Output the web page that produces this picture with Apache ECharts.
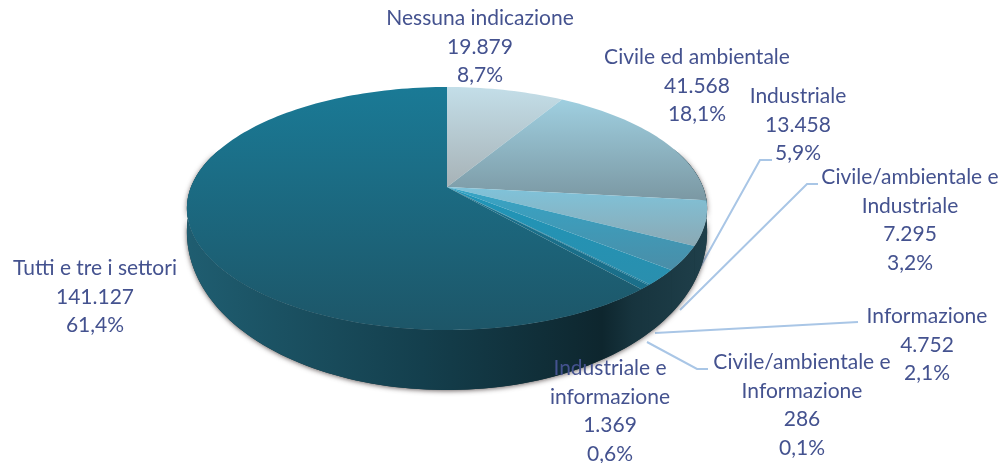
<!DOCTYPE html>
<html>
<head>
<meta charset="utf-8">
<style>
  html, body { margin: 0; padding: 0; background: #fff; }
  #chart { width: 1008px; height: 463px; filter: blur(0.5px); }
</style>
<script src="https://cdn.jsdelivr.net/npm/echarts@6/dist/echarts.min.js"></script>
</head>
<body>
<div id="chart"></div>
<script>
// settori in senso orario a partire da ore 12
const categories = [
  'Nessuna indicazione', 'Civile ed ambientale', 'Industriale',
  'Civile/ambientale e\nIndustriale', 'Informazione',
  'Civile/ambientale e\nInformazione', 'Industriale e\ninformazione',
  'Tutti e tre i settori'
]
const values = [19879, 41568, 13458, 7295, 4752, 286, 1369, 141127]
const valueLabels = ['19.879', '41.568', '13.458', '7.295', '4.752', '286', '1.369', '141.127']
const percentLabels = ['8,7%', '18,1%', '5,9%', '3,2%', '2,1%', '0,1%', '0,6%', '61,4%']

const topColors = [
  ['#c3dee8', '#a7b2b6'], ['#9fcfe0', '#7b98a3'], ['#7fc3da', '#8ba9b4'], ['#36a5c6', '#4a8ea8'],
  ['#1f95b8', '#2a8fae'], ['#1b7a98', '#1b7a98'], ['#1a6f8a', '#1a6f8a'], ['#1a7a96', '#1d5668']
]
const labelPos = [
  [480, 47], [697, 86], [798, 125], [910, 220], [927, 345], [802, 405], [610, 411], [95, 297]
]
const leaderLines = [
  [[772, 160], [760, 160], [697, 273]],
  [[818, 184], [807, 184], [680, 310]],
  [[858, 322], [655, 333]],
  [[708, 369], [697, 369], [647, 342]]
]

// parametri della prospettiva
const cx = 447, cy = 187, A = 256, B = 117.7, k = 0.177
const total = values.reduce((a, b) => a + b, 0)
const starts = values.map((_, i) => values.slice(0, i).reduce((a, b) => a + b, 0) / total)

function rim(share, drop) {
  const t = share * 2 * Math.PI
  const u = Math.sin(t), v = Math.cos(t)
  const d = 1 + k * v
  const y = cy - B * v / d
  return [cx + A * u / d, drop ? y + Math.max(0, 15 - 45 * v) : y]
}

function arc(from, to, drop) {
  const pts = []
  const n = Math.max(2, Math.ceil((to - from) * 240))
  for (let i = 0; i <= n; i++) pts.push(rim(from + (to - from) * i / n, drop))
  return pts
}

// alone grigio sotto il bordo del disco
function renderShadow() {
  return {
    type: 'polygon',
    shape: { points: arc(0.2, 0.8, false).concat(arc(0.2, 0.8, true).reverse()) },
    style: {
      fill: '#17343e',
      shadowBlur: 5,
      shadowColor: 'rgba(70,60,60,0.8)',
      shadowOffsetY: 1
    }
  }
}

function renderWall(params, api) {
  const from = starts[params.dataIndex]
  const to = from + api.value(1) / total
  const points = arc(from, to, false).concat(arc(from, to, true).reverse())
  return {
    type: 'polygon',
    shape: { points },
    style: {
      fill: {
        type: 'linear', x: 190, y: 0, x2: 705, y2: 0, global: true,
        colorStops: [
          { offset: 0, color: '#1f5d70' },
          { offset: 0.45, color: '#143f4d' },
          { offset: 0.8, color: '#0e262e' },
          { offset: 0.86, color: '#17343e' },
          { offset: 1, color: '#1f3f4a' }
        ]
      }
    }
  }
}

function renderTop(params, api) {
  const i = params.dataIndex
  const from = starts[i]
  const to = from + api.value(1) / total
  return {
    type: 'polygon',
    shape: { points: [[cx, cy]].concat(arc(from, to, false)) },
    style: {
      fill: {
        type: 'linear', x: 0, y: 0, x2: 0, y2: 1,
        colorStops: [
          { offset: 0, color: topColors[i][0] },
          { offset: 1, color: topColors[i][1] }
        ]
      }
    }
  }
}

function renderLeader(params) {
  return {
    type: 'polyline',
    shape: { points: leaderLines[params.dataIndex] },
    style: { stroke: '#a9c6e6', lineWidth: 2, fill: null }
  }
}

function renderLabel(params) {
  const i = params.dataIndex
  return {
    type: 'text',
    x: labelPos[i][0],
    y: labelPos[i][1],
    style: {
      text: categories[i] + '\n' + valueLabels[i] + '\n' + percentLabels[i],
      fill: '#44528f',
      font: '21px Lato',
      lineHeight: 28.5,
      align: 'center',
      verticalAlign: 'middle'
    }
  }
}

const rows = categories.map((c, i) => [c, values[i]])
const chart = echarts.init(document.getElementById('chart'))
chart.setOption({
  animation: false,
  series: [
    { type: 'custom', coordinateSystem: 'none', z: 1, data: leaderLines.map((_, i) => [i]), renderItem: renderLeader, silent: true },
    { type: 'custom', coordinateSystem: 'none', z: 2, data: [[0]], renderItem: renderShadow, silent: true },
    { type: 'custom', coordinateSystem: 'none', z: 3, data: rows, renderItem: renderWall, silent: true },
    { type: 'custom', coordinateSystem: 'none', z: 4, data: rows, renderItem: renderTop, silent: true },
    { type: 'custom', coordinateSystem: 'none', z: 5, data: rows, renderItem: renderLabel, silent: true }
  ]
})
</script>
</body>
</html>
